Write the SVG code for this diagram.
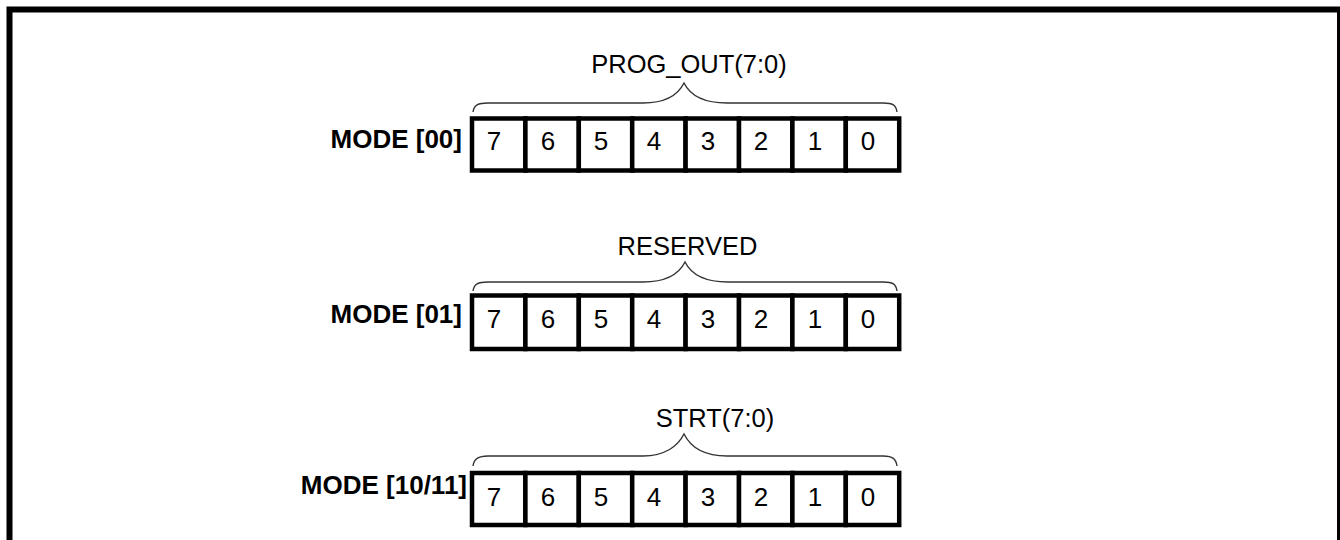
<svg xmlns="http://www.w3.org/2000/svg" width="1340" height="540" viewBox="0 0 1340 540">
<style>
.frame{fill:none;stroke:#000;stroke-width:6}
.cell{fill:#fff;stroke:#000;stroke-width:4.5}
.brace{fill:none;stroke:#333;stroke-width:1.4}
.lbl{font-family:"Liberation Sans",Arial,sans-serif;font-size:25.5px;fill:#000;text-anchor:middle}
.mode{font-family:"Liberation Sans",Arial,sans-serif;font-size:26px;font-weight:bold;fill:#000;text-anchor:end}
.dig{font-family:"Liberation Sans",Arial,sans-serif;font-size:26px;fill:#000;text-anchor:middle}
</style>
<rect x="0" y="0" width="1340" height="540" fill="#fff"/>
<rect class="frame" x="9.5" y="9.5" width="1330.5" height="600"/>

<g id="row0">
<text class="mode" x="462" y="148">MODE [00]</text>
<text class="lbl" x="689" y="73">PROG_OUT(7:0)</text>
<path class="brace" d="M473,112 C474,105 478,103 488,103 L643,103 C665,103 678,95 684,83 C690,95 703,103 727,103 L883,103 C893,103 896,105 897,112"/>
<g>
<rect class="cell" x="472" y="118.5" width="53.4" height="52"/>
<rect class="cell" x="525.4" y="118.5" width="53.4" height="52"/>
<rect class="cell" x="578.8" y="118.5" width="53.4" height="52"/>
<rect class="cell" x="632.2" y="118.5" width="53.4" height="52"/>
<rect class="cell" x="685.6" y="118.5" width="53.4" height="52"/>
<rect class="cell" x="739" y="118.5" width="53.4" height="52"/>
<rect class="cell" x="792.4" y="118.5" width="53.4" height="52"/>
<rect class="cell" x="845.8" y="118.5" width="53.4" height="52"/>
</g>
<text class="dig" x="494" y="150">7</text>
<text class="dig" x="548" y="150">6</text>
<text class="dig" x="601" y="150">5</text>
<text class="dig" x="654" y="150">4</text>
<text class="dig" x="708" y="150">3</text>
<text class="dig" x="761" y="150">2</text>
<text class="dig" x="815" y="150">1</text>
<text class="dig" x="868" y="150">0</text>
</g>

<g id="row1">
<text class="mode" x="462" y="323">MODE [01]</text>
<text class="lbl" x="687.5" y="255">RESERVED</text>
<path class="brace" d="M473,291 C474,284 478,282 488,282 L643,282 C665,282 679,274 685,262 C691,274 704,282 728,282 L883,282 C893,282 896,284 897,291"/>
<g>
<rect class="cell" x="472" y="295.5" width="53.4" height="53.5"/>
<rect class="cell" x="525.4" y="295.5" width="53.4" height="53.5"/>
<rect class="cell" x="578.8" y="295.5" width="53.4" height="53.5"/>
<rect class="cell" x="632.2" y="295.5" width="53.4" height="53.5"/>
<rect class="cell" x="685.6" y="295.5" width="53.4" height="53.5"/>
<rect class="cell" x="739" y="295.5" width="53.4" height="53.5"/>
<rect class="cell" x="792.4" y="295.5" width="53.4" height="53.5"/>
<rect class="cell" x="845.8" y="295.5" width="53.4" height="53.5"/>
</g>
<text class="dig" x="494" y="328">7</text>
<text class="dig" x="548" y="328">6</text>
<text class="dig" x="601" y="328">5</text>
<text class="dig" x="654" y="328">4</text>
<text class="dig" x="708" y="328">3</text>
<text class="dig" x="761" y="328">2</text>
<text class="dig" x="815" y="328">1</text>
<text class="dig" x="868" y="328">0</text>
</g>

<g id="row2">
<text class="mode" x="467" y="494">MODE [10/11]</text>
<text class="lbl" x="715" y="427">STRT(7:0)</text>
<path class="brace" d="M473,466 C474,459 478,456 488,456 L643,456 C665,456 678,446 684,434 C690,446 703,456 727,456 L883,456 C893,456 896,459 897,466"/>
<g>
<rect class="cell" x="472" y="473" width="53.4" height="52"/>
<rect class="cell" x="525.4" y="473" width="53.4" height="52"/>
<rect class="cell" x="578.8" y="473" width="53.4" height="52"/>
<rect class="cell" x="632.2" y="473" width="53.4" height="52"/>
<rect class="cell" x="685.6" y="473" width="53.4" height="52"/>
<rect class="cell" x="739" y="473" width="53.4" height="52"/>
<rect class="cell" x="792.4" y="473" width="53.4" height="52"/>
<rect class="cell" x="845.8" y="473" width="53.4" height="52"/>
</g>
<text class="dig" x="494" y="506">7</text>
<text class="dig" x="548" y="506">6</text>
<text class="dig" x="601" y="506">5</text>
<text class="dig" x="654" y="506">4</text>
<text class="dig" x="708" y="506">3</text>
<text class="dig" x="761" y="506">2</text>
<text class="dig" x="815" y="506">1</text>
<text class="dig" x="868" y="506">0</text>
</g>
</svg>
